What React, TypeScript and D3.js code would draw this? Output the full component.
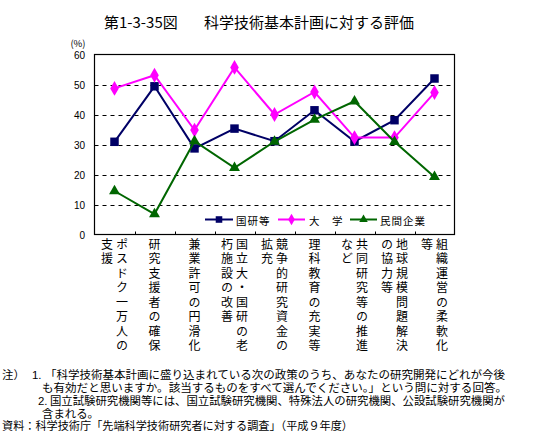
import React from "react";
import * as d3 from "d3";

const categories = [
  "ポスドク一万人の支援",
  "研究支援者の確保",
  "兼業許可の円滑化",
  "国立大・国研の老朽施設の改善",
  "競争的研究資金の拡充",
  "理科教育の充実等",
  "共同研究等の推進など",
  "地球規模問題解決の協力等",
  "組織運営の柔軟化等",
];
const kokken = [30.9, 49.4, 28.7, 35.3, 31.1, 41.4, 31.0, 38.1, 52.0];
const daigaku = [48.7, 53.1, 34.8, 55.7, 40.0, 47.5, 32.3, 32.3, 47.3];
const minkan = [14.5, 6.8, 31.1, 22.2, 31.0, 38.3, 44.4, 30.9, 19.2];
const yTicks = [0, 10, 20, 30, 40, 50, 60];
const seriesNames = ["国研等", "大　学", "民間企業"];

const titleNum = "第1-3-35図";
const titleText = "科学技術基本計画に対する評価";
const notes = [
  { x: 2, y: 375, t: "注）" },
  { x: 32, y: 375, t: "1." },
  { x: 45, y: 375, t: "「科学技術基本計画に盛り込まれている次の政策のうち、あなたの研究開発にどれが今後", len: 460 },
  { x: 42, y: 388, t: "も有効だと思いますか。該当するものをすべて選んでください。」という問に対する回答。", len: 465 },
  { x: 38, y: 401, t: "2." },
  { x: 50, y: 401, t: "国立試験研究機関等には、国立試験研究機関、特殊法人の研究機関、公設試験研究機関が", len: 455 },
  { x: 42, y: 413.5, t: "含まれる。" },
  { x: 2, y: 426, t: "資料：科学技術庁「先端科学技術研究者に対する調査」（平成９年度）", len: 351 },
];

const FONT = "'Noto Sans CJK JP', 'Noto Sans', sans-serif";
const NOTE_FONT = "'Liberation Sans', 'Noto Sans CJK JP', sans-serif";

export default function App() {
  const left = 94.5, right = 454.5, top = 54.5, bottom = 234.5;
  const x = d3.scaleBand<string>().domain(categories).range([left, right]).padding(0);
  const y = d3.scaleLinear().domain([0, 60]).range([bottom, top]);
  const cx = (c: string) => (x(c) as number) + x.bandwidth() / 2;

  const series = [
    { name: seriesNames[0], data: kokken, color: "#000066", sym: d3.symbolSquare, size: 72 },
    { name: seriesNames[1], data: daigaku, color: "#FF00FF", sym: d3.symbolDiamond, size: 64 },
    { name: seriesNames[2], data: minkan, color: "#006600", sym: d3.symbolTriangle, size: 52 },
  ];
  const line = d3
    .line<number>()
    .x((_, i) => cx(categories[i]))
    .y((d) => y(d));

  const legendPos = [
    { x1: 205, x2: 233, tx: 236 },
    { x1: 278, x2: 305, tx: 309 },
    { x1: 350, x2: 377, tx: 380 },
  ];
  const legendY = 219.5;

  const colOffsets = (n: number) => (n === 1 ? [0] : [7.5, -7.5]);

  return (
    <svg
      width={543}
      height={448}
      style={{ position: "absolute", left: 0, top: 0, background: "#fff" }}
      fontFamily={FONT}
      lang="ja"
    >
      <rect x={0} y={0} width={543} height={448} fill="#fff" />
      {/* Title */}
      <text x={104} y={21} fontSize={15} dominantBaseline="central" fill="#000">
        {titleNum}
      </text>
      <text x={204} y={21} fontSize={15} dominantBaseline="central" fill="#000">
        {titleText}
      </text>

      {/* unit */}
      <text x={78} y={43} fontSize={9.5} textAnchor="middle" dominantBaseline="central">
        (%)
      </text>

      {/* gridlines */}
      {yTicks
        .filter((t) => t > 0 && t < 60)
        .map((t) => (
          <line
            key={t}
            x1={left}
            x2={right}
            y1={Math.round(y(t)) + 0.5}
            y2={Math.round(y(t)) + 0.5}
            stroke="#000"
            strokeWidth={1}
            strokeDasharray="4,4"
          />
        ))}
      {/* y tick labels */}
      {yTicks.map((t) => (
        <text
          key={t}
          x={85}
          y={y(t) + 1}
          fontSize={10}
          fontFamily="'Liberation Sans', sans-serif"
          textAnchor="end"
          dominantBaseline="central"
        >
          {t}
        </text>
      ))}
      {/* plot border */}
      <rect x={left} y={top} width={right - left} height={bottom - top} fill="none" stroke="#000" strokeWidth={1.2} />
      {/* x ticks */}
      {categories.slice(1).map((c) => (
        <line
          key={c}
          x1={Math.round(x(c) as number) + 0.5}
          x2={Math.round(x(c) as number) + 0.5}
          y1={bottom}
          y2={bottom - 3}
          stroke="#000"
        />
      ))}

      {/* series */}
      {series.map((s) => (
        <g key={s.name}>
          <path d={line(s.data) || ""} fill="none" stroke={s.color} strokeWidth={2} />
          {s.data.map((v, i) => (
            <path
              key={i}
              transform={`translate(${cx(categories[i])},${y(v)})`}
              d={d3.symbol().type(s.sym).size(s.size)() || ""}
              fill={s.color}
            />
          ))}
        </g>
      ))}

      {/* legend */}
      {series.map((s, i) => {
        const p = legendPos[i];
        return (
          <g key={s.name}>
            <line x1={p.x1} x2={p.x2} y1={legendY} y2={legendY} stroke={s.color} strokeWidth={2} />
            <path
              transform={`translate(${(p.x1 + p.x2) / 2},${legendY})`}
              d={d3.symbol().type(s.sym).size(s.size * 0.6)() || ""}
              fill={s.color}
            />
            <text x={p.tx} y={legendY + 0.5} fontSize={10.5} letterSpacing={1} dominantBaseline="central">
              {s.name}
            </text>
          </g>
        );
      })}

      {/* category labels (vertical, columns right to left) */}
      {categories.map((c) => {
        const chars = Array.from(c);
        const cols: string[] = [];
        for (let i = 0; i < chars.length; i += 8) cols.push(chars.slice(i, i + 8).join(""));
        const offs = colOffsets(cols.length);
        return (
          <g key={c}>
            {cols.map((col, ci) => (
              <text
                key={ci}
                x={cx(c) + offs[ci]}
                y={238}
                fontSize={12}
                letterSpacing={2.5}
                style={{ writingMode: "vertical-rl" as any }}
              >
                {col}
              </text>
            ))}
          </g>
        );
      })}

      {/* notes */}
      {notes.map((n, i) => (
        <text
          key={i}
          x={n.x}
          y={n.y + 4}
          fontSize={11.4}
          fontFamily={NOTE_FONT}
          {...(n.len ? { textLength: n.len, lengthAdjust: "spacingAndGlyphs" } : {})}
        >
          {n.t}
        </text>
      ))}
    </svg>
  );
}
